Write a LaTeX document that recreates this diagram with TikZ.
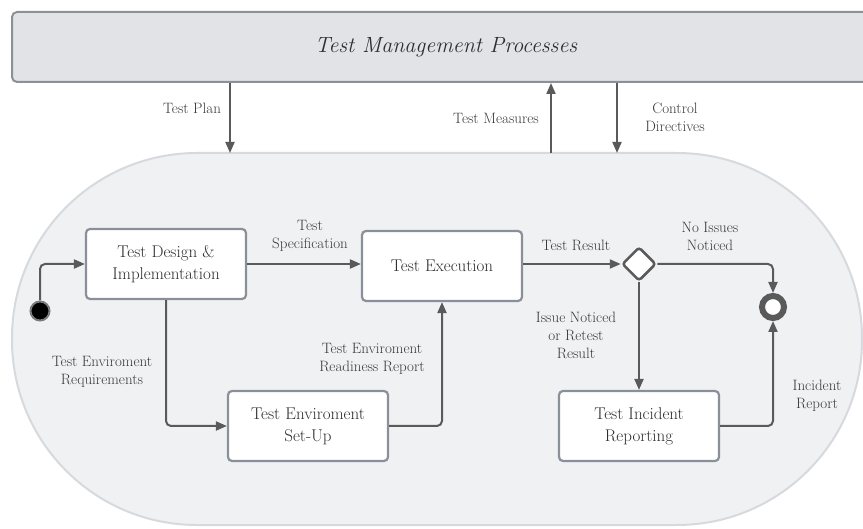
\documentclass[tikz,border=0pt]{standalone}
\usetikzlibrary{arrows.meta,shapes.geometric}
\definecolor{txt}{HTML}{2E2E2E}
\definecolor{lbl}{HTML}{383838}
\definecolor{topfill}{HTML}{E1E3E7}
\definecolor{topline}{HTML}{8C9097}
\definecolor{bgfill}{HTML}{F0F1F3}
\definecolor{bgline}{HTML}{D6D9DE}
\definecolor{boxline}{HTML}{8A9099}
\definecolor{conn}{HTML}{5A5A5A}
\tikzset{
  procbox/.style={draw=boxline, line width=2.2pt, fill=white, rounded corners=4pt,
    minimum width=160pt, minimum height=70pt, align=center, text=txt,
    font=\fontsize{17}{22}\selectfont, inner sep=0pt},
  lab/.style={align=center, text=lbl, font=\fontsize{15}{18}\selectfont, inner sep=0pt},
  arr/.style={draw=conn, line width=2pt, rounded corners=5pt,
    -{Triangle[length=11pt,width=9pt]}},
}
\begin{document}
\begin{tikzpicture}[x=1pt,y=-1pt]
\useasboundingbox (0,0) rectangle (863,529);
\clip (0,0) rectangle (863,529);
% top band
\node[draw=topline, line width=2pt, fill=topfill, rounded corners=5pt,
  minimum width=868pt, minimum height=70pt, inner sep=0pt, text=txt,
  font=\fontsize{22}{26}\selectfont\itshape] (tmp) at (446,47) {Test Management Processes};
% background stadium
\node[draw=bgline, line width=2pt, fill=bgfill, rounded corners=185pt,
  minimum width=850pt, minimum height=372pt, inner sep=0pt] (area) at (437,339) {};
\coordinate (plan) at (230,153);
\coordinate (meas) at (551,153);
\coordinate (ctrl) at (617,153);
\draw[arr] (tmp.south -| plan) -- (plan);
\draw[arr] (meas) -- (tmp.south -| meas);
\draw[arr] (tmp.south -| ctrl) -- (ctrl);
\node[lab] at (192,108) {Test Plan};
\node[lab] at (496,118) {Test Measures};
\node[lab] at (675,117) {Control\\Directives};
% nodes
\node[procbox] (tdi) at (166,264) {Test Design \&\\Implementation};
\node[procbox] (te) at (442,266) {Test Execution};
\node[procbox] (tes) at (308,426) {Test Enviroment\\Set-Up};
\node[procbox] (tir) at (639,426) {Test Incident\\Reporting};
\node[diamond, aspect=1, draw=conn, line width=2.5pt, fill=white, rounded corners=3pt,
  minimum size=34pt, inner sep=0pt] (dec) at (639,264) {};
\node[circle, draw=conn!80, line width=2pt, fill=black, minimum size=19pt, inner sep=0pt] (start) at (40,311) {};
\node[circle, draw=conn, line width=6pt, fill=white, minimum size=22pt, inner sep=0pt] (fin) at (773,307) {};
% connectors
\draw[arr] (start.north) |- (tdi.west);
\draw[arr] (tdi.east |- dec.west) -- (te.west |- dec.west);
\draw[arr] (tdi.south) |- (tes.west);
\draw[arr] (tes.east) -| (te.south);
\draw[arr] (te.east |- dec.west) -- (dec.west);
\draw[arr] (dec.east) -| (fin.north);
\draw[arr] (dec.south) -- (tir.north);
\draw[arr] (tir.east) -| (fin.south);
% labels
\node[lab] at (310,236) {Test\\Specification};
\node[lab] at (102,372) {Test Enviroment\\Requirements};
\node[lab] at (372,359) {Test Enviroment\\Readiness Report};
\node[lab] at (576,245) {Test Result};
\node[lab] at (710,236) {No Issues\\Noticed};
\node[lab] at (576,335) {Issue Noticed\\or Retest\\Result};
\node[lab] at (817,396) {Incident\\Report};
\end{tikzpicture}
\end{document}
